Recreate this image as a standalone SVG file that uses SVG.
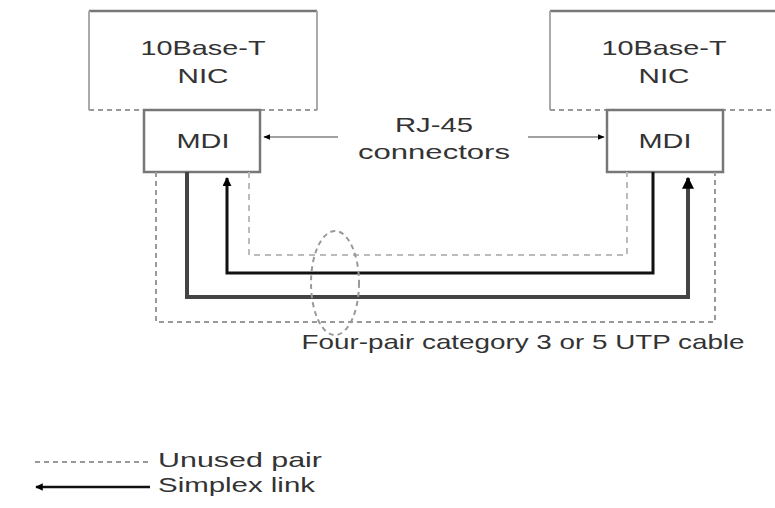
<svg xmlns="http://www.w3.org/2000/svg" width="775" height="508" viewBox="0 0 775 508">
<style>
text{font-family:"Liberation Sans",Arial,sans-serif;font-size:21px;fill:#333;}
.c{text-anchor:middle;}
.box{fill:none;stroke:#777;stroke-width:2.5;}
.side{fill:none;stroke:#aaa;stroke-width:2;}
.dash{fill:none;stroke:#999;stroke-width:2;stroke-dasharray:5,4;}
.ldash{fill:none;stroke:#bbb;stroke-width:2;stroke-dasharray:6,5;}
.thin{fill:none;stroke:#444;stroke-width:1.2;}
</style>
<defs>
<marker id="ah" viewBox="0 0 10 10" refX="9" refY="5" markerWidth="3" markerHeight="3" orient="auto" markerUnits="strokeWidth"><path d="M0,0 L10,5 L0,10 Z" fill="#000"/></marker>
<marker id="ahs" viewBox="0 0 10 10" refX="9" refY="5" markerWidth="6" markerHeight="6" orient="auto" markerUnits="strokeWidth"><path d="M0,1 L10,5 L0,9 Z" fill="#000"/></marker>
</defs>
<rect width="775" height="508" fill="#fff"/>
<g id="nic-left">
<line x1="89" y1="11" x2="317" y2="11" class="box"/>
<line x1="89" y1="11" x2="89" y2="110" class="side"/>
<line x1="317" y1="11" x2="317" y2="110" class="side"/>
<line x1="89" y1="110" x2="317" y2="110" class="dash"/>
<text class="c" x="203" y="55" textLength="125" lengthAdjust="spacingAndGlyphs">10Base-T</text>
<text class="c" x="203" y="83" textLength="51" lengthAdjust="spacingAndGlyphs">NIC</text>
</g>
<g id="nic-right">
<line x1="550" y1="11" x2="780" y2="11" class="box"/>
<line x1="550" y1="11" x2="550" y2="110" class="side"/>
<line x1="550" y1="110" x2="780" y2="110" class="dash"/>
<text class="c" x="664" y="55" textLength="125" lengthAdjust="spacingAndGlyphs">10Base-T</text>
<text class="c" x="664" y="83" textLength="51" lengthAdjust="spacingAndGlyphs">NIC</text>
</g>
<g id="mdi-left">
<rect x="144" y="110" width="116" height="62" class="box" style="fill:#fff"/>
<text class="c" x="203" y="148" textLength="53" lengthAdjust="spacingAndGlyphs">MDI</text>
</g>
<g id="mdi-right">
<rect x="607" y="110" width="116" height="62" class="box" style="fill:#fff"/>
<text class="c" x="665" y="148" textLength="53" lengthAdjust="spacingAndGlyphs">MDI</text>
</g>
<g id="rj45-label">
<text class="c" x="434" y="132" textLength="78" lengthAdjust="spacingAndGlyphs">RJ-45</text>
<text class="c" x="434" y="159" textLength="152" lengthAdjust="spacingAndGlyphs">connectors</text>
</g>
<g id="connectors">
<line x1="338" y1="137" x2="264" y2="137" class="thin" marker-end="url(#ahs)"/>
<line x1="528" y1="137" x2="604" y2="137" class="thin" marker-end="url(#ahs)"/>
<path d="M156,172 V322 H715 V172" class="dash"/>
<path d="M249,172 V255 H627 V172" class="ldash"/>
<path d="M187,172 V297 H688 V178" fill="none" stroke="#444" stroke-width="4" marker-end="url(#ah)"/>
<path d="M653,172 V273 H227 V178" fill="none" stroke="#111" stroke-width="3" marker-end="url(#ah)"/>
<ellipse cx="335" cy="283" rx="24" ry="52" class="dash" stroke-width="1.5"/>
</g>
<g id="cable-label">
<text class="c" x="523" y="349" textLength="443" lengthAdjust="spacingAndGlyphs">Four-pair category 3 or 5 UTP cable</text>
</g>
<g id="legend">
<line x1="35" y1="462" x2="150" y2="462" class="dash"/>
<line x1="150" y1="487" x2="36" y2="487" fill="none" stroke="#111" stroke-width="2.5" marker-end="url(#ah)"/>
<text x="158" y="467" textLength="164" lengthAdjust="spacingAndGlyphs">Unused pair</text>
<text x="158" y="492" textLength="157" lengthAdjust="spacingAndGlyphs">Simplex link</text>
</g>
</svg>
